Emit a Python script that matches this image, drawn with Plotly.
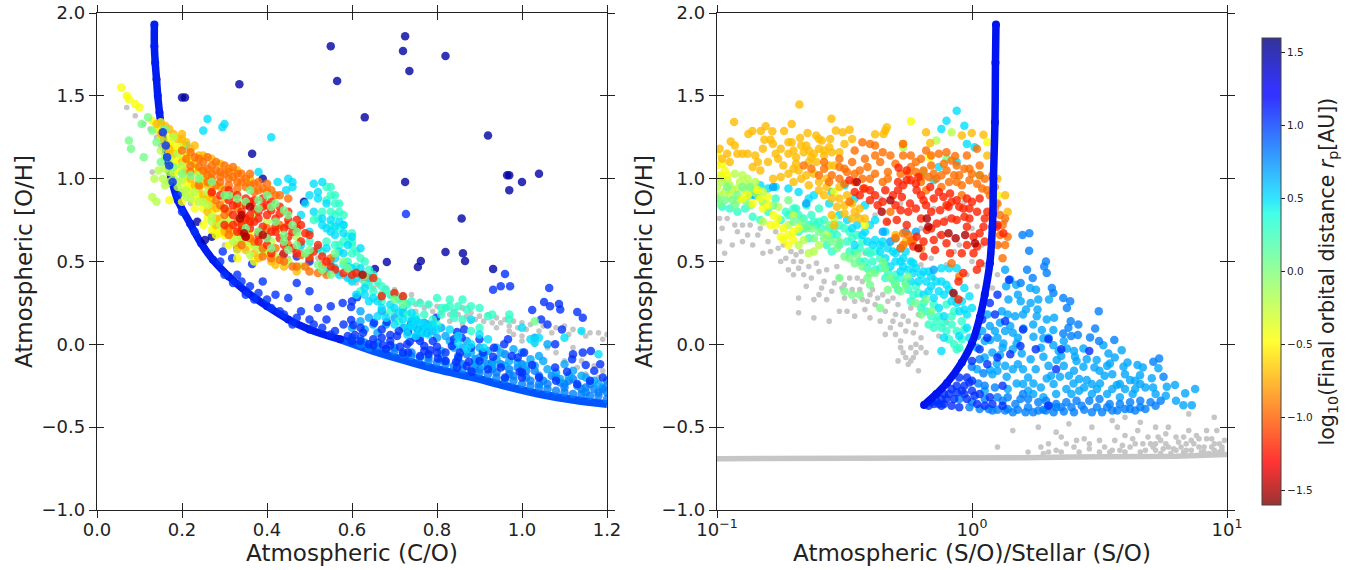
import plotly.graph_objects as go

# ---------- band values of log10(final orbital distance) ----------
C_DARKRED, C_RED, C_ORANGE, C_AMBER, C_YELLOW, C_LIME, C_GREEN = -1.5, -1.2, -0.95, -0.7, -0.45, -0.2, 0.05
C_AQUA, C_CYAN, C_SKY, C_AZURE, C_BLUE, C_NAVY = 0.3, 0.5, 0.68, 0.8, 1.05, 1.5

# ---------- LEFT panel (C/O, O/H) ----------
L_CURVE_UP = [(0.135,1.93),(0.135,1.8),(0.137,1.7),(0.14,1.6),(0.143,1.5),(0.147,1.4),(0.152,1.3),(0.16,1.2),(0.167,1.1),(0.175,1.0),(0.19,0.87),(0.219,0.73),(0.245,0.61),(0.273,0.51),(0.31,0.41),(0.35,0.32),(0.4,0.23),(0.45,0.15),(0.5,0.09),(0.572,0.03)]
L_CURVE_LOW = [(0.572,0.03),(0.65,-0.04),(0.729,-0.1),(0.8,-0.15),(0.885,-0.2),(0.96,-0.25),(1.042,-0.3),(1.12,-0.335),(1.2,-0.36)]
L_GRAY = [(0.07,1.43),(0.09,1.38),(0.11,1.33),(0.125,1.3),(0.14,1.25),(0.15,1.2),(0.13,1.04),(0.16,1.15),(0.17,1.0),(0.2,0.92),(0.22,0.85),(0.25,0.88),(0.3,0.6),(0.35,0.58),(0.4,0.62),(0.45,0.52),(0.5,0.5),(0.54,0.44),(0.58,0.41),(0.6,0.38),(0.62,0.39),(0.64,0.37),(0.66,0.36),(0.68,0.34),(0.7,0.33),(0.72,0.3),(0.74,0.3),(0.76,0.26),(0.78,0.24),(0.8,0.23),(0.82,0.22),(0.84,0.2),(0.86,0.22),(0.88,0.19),(0.9,0.17),(0.92,0.18),(0.94,0.16),(0.96,0.15),(0.98,0.14),(1.0,0.13),(1.02,0.12),(1.05,0.11),(1.08,0.1),(1.1,0.11),(1.12,0.09),(1.14,0.08),(1.16,0.07),(1.18,0.07),(1.2,0.06),(0.68,0.18),(0.7,0.2),(0.72,0.18),(0.75,0.2),(0.8,0.16),(0.83,0.14),(0.86,0.12),(0.88,0.14),(0.94,0.1),(0.97,0.08),(1.0,0.02),(1.03,0.0),(1.06,-0.02),(1.08,-0.05),(1.1,-0.1),(1.13,-0.14),(1.15,-0.18),(1.18,-0.2),(1.2,-0.24),(0.45,0.62),(0.48,0.58),(0.52,0.52),(0.56,0.47),(0.36,0.72),(0.42,0.7),(0.55,0.46),(0.57,0.43),(0.59,0.4),(0.61,0.37),(0.63,0.36),(0.65,0.34),(0.67,0.31),(0.69,0.29),(0.71,0.27),(0.73,0.25),(0.75,0.24),(0.77,0.22),(0.79,0.2),(0.81,0.19),(0.83,0.18),(0.85,0.18),(0.87,0.17),(0.89,0.15),(0.91,0.14),(0.93,0.13),(0.95,0.13),(0.97,0.11),(0.99,0.1),(1.01,0.09),(1.04,0.08),(1.07,0.07),(1.11,0.06),(1.15,0.05),(1.19,0.03),(0.98,0.06),(1.0,0.05),(1.12,-0.02),(1.17,-0.13),(1.19,-0.16),(1.14,-0.1)]
L_NAVY = [(0.55,1.8),(0.725,1.86),(0.72,1.77),(0.735,1.65),(0.82,1.74),(0.565,1.59),(0.335,1.57),(0.63,1.37),(0.92,1.26),(0.725,0.98),(0.965,1.02),(0.97,1.02),(0.97,0.93),(1.0,0.98),(1.04,1.03),(0.365,1.15),(0.2,1.49),(0.207,1.49),(0.858,0.76),(0.82,0.557),(0.861,0.55),(0.866,0.503),(0.682,0.497),(0.762,0.503),(0.755,0.467),(0.654,0.455),(0.932,0.455),(0.39,1.0),(0.487,0.86),(0.236,0.74),(0.254,0.63),(0.27,0.65)]
L_BLUE = [(0.727,0.787),(0.96,0.425),(0.932,0.33),(0.95,0.35),(0.972,0.35),(1.064,0.34),(1.052,0.255),(1.066,0.23),(1.087,0.243),(1.09,0.21),(1.13,0.195),(1.143,0.16),(1.024,0.207),(1.045,0.15),(1.06,0.12),(1.094,0.09),(1.078,0.0),(0.967,0.03),(0.958,0.0),(1.005,-0.05),(1.143,-0.05),(1.162,-0.04),(1.118,-0.09),(1.15,-0.125),(1.184,-0.12),(1.17,-0.16),(1.106,-0.165),(1.078,-0.14),(0.578,0.25),(0.6,0.26),(0.612,0.285),(0.598,0.225),(0.598,0.147),(0.603,0.117),(0.652,0.13),(0.682,0.135),(0.67,0.09),(0.69,0.056),(0.706,0.05),(0.738,0.117),(0.732,0.075),(0.755,0.09),(0.776,0.07),(0.798,0.16),(0.847,0.075),(0.864,0.09),(0.858,0.04),(0.9,0.03),(0.835,-0.01),(0.854,-0.05),(0.908,-0.05),(0.934,-0.02),(0.736,0.015),(0.76,0.02),(0.784,-0.035),(0.8,-0.015),(0.8,-0.05),(0.802,-0.085),(0.732,-0.05),(0.713,-0.015),(0.69,-0.005),(0.673,-0.005),(0.65,-0.005),(0.626,0.07),(0.607,0.056),(0.845,-0.105),(0.875,-0.105),(0.847,-0.14),(0.882,-0.165),(0.932,-0.075),(0.976,-0.07),(0.99,-0.08),(1.024,-0.125),(0.995,-0.165),(0.296,0.56),(0.33,0.575),(0.318,0.52),(0.365,0.485),(0.47,0.53),(0.438,0.54),(0.5,0.5),(0.3,0.42),(0.33,0.42),(0.36,0.35),(0.39,0.38),(0.42,0.3),(0.45,0.28),(0.47,0.37),(0.5,0.32),(0.52,0.22),(0.55,0.23),(0.4,0.27),(0.35,0.3),(0.48,0.2),(0.54,0.15),(0.5,0.15),(0.43,0.2),(0.58,0.12),(0.46,0.12),(0.38,0.31),(0.56,0.08),(0.53,0.1),(0.62,0.02),(0.59,0.05),(0.2,0.8),(0.23,0.68),(0.29,0.5),(0.34,0.38),(0.32,0.37),(0.37,0.27),(0.41,0.22),(0.44,0.18),(0.47,0.16),(0.51,0.12),(0.55,0.06),(0.6,0.02),(0.64,0.0),(0.68,-0.03),(0.72,-0.05),(0.76,-0.07),(0.82,-0.1),(0.87,-0.13),(0.92,-0.15),(0.96,-0.2),(1.0,-0.2),(1.04,-0.2),(1.08,-0.22),(1.13,-0.24),(0.9,-0.1),(0.77,-0.01),(0.84,0.03),(1.16,-0.22),(1.19,-0.2),(1.12,-0.06),(0.62,0.1),(0.67,0.04),(0.71,0.08),(0.75,0.04),(0.79,0.02),(0.82,-0.05),(0.88,-0.02),(0.95,-0.14),(1.0,-0.17),(0.73,0.0),(0.77,-0.04),(0.69,0.02),(0.65,0.03),(0.85,-0.08),(0.78,-0.06)]
L_BLUE_OVER = [(0.155,1.28),(0.162,1.2),(0.165,1.13),(0.17,1.08),(0.178,0.98),(0.19,0.9)]
L_AZURE = [(0.6,0.04),(0.63,0.01),(0.66,-0.01),(0.7,-0.04),(0.74,-0.07),(0.78,-0.1),(0.82,-0.12),(0.86,-0.15),(0.9,-0.17),(0.94,-0.2),(0.98,-0.22),(1.02,-0.25),(1.06,-0.27),(1.1,-0.29),(1.14,-0.3),(1.18,-0.31),(1.2,-0.29),(1.17,-0.27),(1.13,-0.25),(1.09,-0.23),(1.05,-0.22),(1.01,-0.2),(0.97,-0.18),(0.93,-0.15),(0.89,-0.13),(0.85,-0.1),(0.81,-0.09),(1.16,-0.24),(1.19,-0.26),(1.12,-0.21),(1.07,-0.19),(1.03,-0.16),(0.99,-0.14),(0.95,-0.12),(0.91,-0.08),(0.87,-0.06),(1.2,-0.22),(1.1,-0.24),(1.15,-0.29),(1.04,-0.24),(0.92,-0.12),(0.89,-0.09),(0.96,-0.06),(1.0,-0.12),(0.62,0.0),(0.64,-0.02),(0.68,-0.03),(0.72,-0.06),(0.76,-0.08),(0.8,-0.11),(0.84,-0.13),(0.88,-0.16),(0.92,-0.18),(0.96,-0.21),(1.0,-0.24),(1.04,-0.26),(1.08,-0.28),(1.12,-0.3),(1.16,-0.31),(1.2,-0.33),(1.18,-0.29),(1.14,-0.27),(1.1,-0.26),(1.06,-0.24),(1.02,-0.22),(0.98,-0.19),(0.94,-0.17),(0.9,-0.15),(0.86,-0.12),(0.82,-0.1),(0.78,-0.08),(0.74,-0.05),(0.7,-0.02),(0.66,0.01),(0.62,0.03),(1.19,-0.27),(1.15,-0.26),(1.11,-0.22),(1.08,-0.2),(1.04,-0.19),(1.01,-0.16),(0.97,-0.15),(0.93,-0.11)]
L_SKY = [(0.86,-0.02),(0.9,-0.08),(0.92,-0.04),(0.94,-0.09),(0.97,-0.1),(0.88,-0.05),(0.84,-0.02),(0.83,0.02),(0.87,0.02),(0.82,0.05),(0.8,0.04),(0.78,0.12),(0.74,0.14),(0.72,0.19),(0.7,0.16),(0.68,0.12),(0.72,0.1),(0.77,0.1),(0.62,0.2),(0.64,0.16),(0.67,0.2),(0.63,0.09),(0.62,0.14),(0.6,0.1),(0.9,-0.02),(1.0,-0.05),(1.02,-0.09),(1.06,-0.15),(1.1,-0.12),(1.15,-0.2),(1.12,-0.16),(0.79,0.08),(0.81,0.1),(0.76,0.04),(0.94,-0.02),(0.98,-0.03),(1.04,-0.07),(1.03,0.04),(1.06,0.0),(0.91,-0.06),(0.93,-0.13),(0.95,-0.05),(0.99,-0.11),(1.03,-0.13),(1.05,-0.1),(1.08,-0.17),(1.14,-0.19),(1.18,-0.24),(0.85,-0.07),(0.81,-0.04),(0.65,0.12),(0.66,0.07),(0.75,0.14),(0.77,0.13),(0.89,-0.11),(0.91,-0.13),(0.96,-0.13),(1.01,-0.13),(1.09,-0.21),(1.17,-0.22),(1.11,-0.19)]
L_CYAN = [(0.52,0.92),(0.5,0.9),(0.53,0.98),(0.49,0.85),(0.46,0.95),(0.41,1.25),(0.38,1.04),(0.425,0.98),(0.46,0.98),(0.45,1.0),(0.445,0.93),(0.48,0.78),(0.5,0.68),(0.53,0.72),(0.56,0.66),(0.48,0.6),(0.52,0.58),(0.55,0.5),(0.58,0.55),(0.6,0.46),(0.57,0.42),(0.54,0.44),(0.6,0.38),(0.63,0.3),(0.66,0.26),(0.69,0.24),(0.72,0.22),(0.74,0.19),(0.76,0.13),(0.78,0.1),(0.8,0.09),(0.77,0.07),(0.75,0.1),(0.74,0.14),(0.73,0.06),(0.3,1.33),(0.26,1.36),(0.25,1.29),(0.295,1.31),(0.2,1.2),(0.21,1.2),(1.0,0.1),(1.03,0.01),(1.04,0.04),(1.02,0.03),(0.88,0.15),(0.9,0.06),(0.92,0.03),(1.1,0.04),(1.14,0.08),(1.18,-0.06),(0.58,0.72),(0.6,0.65),(0.62,0.58),(0.51,0.97),(0.52,0.88),(0.54,0.85),(0.51,0.8),(0.53,0.76),(0.55,0.68),(0.57,0.74),(0.54,0.58),(0.5,0.55),(0.57,0.56),(0.59,0.6),(0.56,0.46),(0.59,0.4),(0.62,0.46),(0.64,0.4),(0.61,0.3),(0.64,0.26),(0.67,0.22),(0.7,0.22),(0.72,0.15),(0.74,0.11),(0.7,0.12),(0.68,0.16),(0.76,0.08),(0.78,0.06),(0.75,0.05),(0.79,0.12),(0.73,0.1),(0.66,0.17),(0.83,0.09),(0.85,0.05),(0.88,0.0),(0.91,-0.02),(0.87,-0.03),(0.85,0.01),(0.55,0.75),(0.56,0.71),(0.54,0.7),(0.58,0.67),(0.56,0.52),(0.59,0.47),(0.61,0.4),(0.63,0.34),(0.65,0.28),(0.71,0.19),(0.75,0.15),(0.77,0.12)]
L_AQUA = [(0.54,0.95),(0.55,0.9),(0.56,0.85),(0.57,0.8),(0.55,0.8),(0.58,0.72),(0.59,0.65),(0.57,0.6),(0.54,0.62),(0.6,0.6),(0.62,0.52),(0.6,0.55),(0.64,0.45),(0.62,0.42),(0.66,0.38),(0.64,0.36),(0.68,0.33),(0.7,0.3),(0.72,0.28),(0.74,0.26),(0.76,0.25),(0.78,0.24),(0.82,0.22),(0.85,0.23),(0.88,0.23),(0.8,0.28),(0.83,0.27),(0.86,0.27),(0.9,0.22),(0.93,0.18),(0.97,0.18),(0.97,0.15),(0.9,0.1),(0.88,0.08),(0.92,0.17),(0.81,0.18),(0.84,0.16),(0.52,0.76),(0.5,0.62),(0.53,0.56),(0.58,0.48),(0.62,0.32),(0.67,0.3),(0.55,0.95),(0.54,0.87),(0.56,0.9),(0.57,0.85),(0.58,0.78),(0.56,0.78),(0.53,0.8),(0.51,0.75),(0.55,0.72),(0.6,0.67),(0.57,0.7),(0.6,0.62),(0.61,0.56),(0.58,0.62),(0.56,0.6),(0.63,0.5),(0.61,0.47),(0.59,0.5),(0.65,0.42),(0.63,0.38),(0.6,0.42),(0.67,0.35),(0.65,0.32),(0.69,0.3),(0.67,0.26),(0.71,0.27),(0.69,0.2),(0.73,0.24),(0.71,0.14),(0.73,0.18),(0.75,0.17),(0.77,0.18),(0.79,0.15),(0.81,0.22),(0.83,0.23),(0.87,0.21),(0.84,0.19),(0.86,0.15),(0.8,0.12)]
L_GREEN = [(0.105,1.33),(0.12,1.37),(0.075,1.23),(0.08,1.18),(0.11,1.13),(0.13,1.29),(0.14,1.22),(0.16,1.3),(0.15,1.1),(0.18,1.07),(0.2,1.03),(0.22,1.02),(0.24,1.0),(0.3,0.9),(0.33,0.88),(0.36,0.93),(0.38,0.82),(0.4,0.9),(0.42,0.85),(0.45,0.78),(0.46,0.72),(0.42,0.74),(0.38,0.68),(0.44,0.66),(0.47,0.6),(0.5,0.57),(0.45,0.57),(0.41,0.58),(0.53,0.45),(0.55,0.42),(0.59,0.46),(0.63,0.41),(1.03,0.14),(0.72,0.24),(0.7,0.27),(0.35,0.7),(0.4,0.64),(0.27,0.98),(0.31,0.9),(0.35,0.86),(0.38,0.87),(0.41,0.83),(0.44,0.81),(0.47,0.68),(0.44,0.62),(0.49,0.55),(0.52,0.48),(0.56,0.55),(0.58,0.5)]
L_LIME = [(0.145,1.05),(0.135,1.0),(0.17,1.12),(0.16,1.06),(0.17,0.98),(0.16,0.96),(0.19,0.95),(0.13,0.89),(0.21,0.93),(0.22,0.88),(0.25,0.86),(0.27,0.74),(0.3,0.74),(0.3,0.82),(0.32,0.62),(0.35,0.62),(0.38,0.58),(0.24,1.02),(0.2,1.08),(0.18,1.25),(0.2,0.99),(0.14,0.86),(0.19,1.15),(0.26,0.92),(0.15,1.17),(0.16,1.13),(0.155,1.0),(0.17,1.04),(0.18,1.0),(0.19,0.98),(0.2,0.92),(0.21,0.89),(0.23,0.92),(0.24,0.86),(0.26,0.84),(0.27,0.77),(0.29,0.72),(0.31,0.76),(0.33,0.66),(0.34,0.62),(0.36,0.54),(0.39,0.56),(0.42,0.53),(0.45,0.5),(0.48,0.47),(0.41,0.62),(0.37,0.6),(0.34,0.84),(0.37,0.78),(0.4,0.74),(0.43,0.7),(0.47,0.65),(0.5,0.53)]
L_YELLOW = [(0.057,1.55),(0.07,1.5),(0.075,1.48),(0.09,1.45),(0.1,1.43),(0.15,1.3),(0.16,1.28),(0.17,1.24),(0.18,1.2),(0.2,1.2),(0.165,1.2),(0.19,1.13),(0.21,1.1),(0.19,1.05),(0.21,1.0),(0.23,1.05),(0.25,0.97),(0.24,0.9),(0.27,0.88),(0.27,0.8),(0.29,0.82),(0.31,0.72),(0.34,0.72),(0.36,0.66),(0.32,0.65),(0.36,0.6),(0.4,0.55),(0.22,0.96),(0.17,0.87),(0.2,0.86),(0.28,0.66),(0.33,0.57),(0.13,1.35),(0.14,1.3),(0.15,1.24),(0.16,1.2),(0.17,1.16),(0.18,1.1),(0.17,1.08),(0.19,1.09),(0.2,1.04),(0.21,0.96),(0.22,0.92),(0.23,0.87),(0.25,0.82),(0.26,0.76),(0.28,0.7),(0.29,0.67),(0.31,0.6),(0.33,0.52),(0.37,0.5),(0.23,0.82),(0.25,0.72),(0.15,1.34),(0.17,1.21),(0.19,1.18),(0.21,1.14),(0.22,1.11),(0.18,1.04),(0.24,0.98),(0.26,0.88),(0.3,0.66),(0.27,0.69)]
L_AMBER = [(0.17,1.3),(0.2,1.24),(0.22,1.18),(0.24,1.14),(0.23,1.09),(0.25,1.01),(0.27,0.95),(0.29,0.95),(0.3,0.88),(0.25,0.9),(0.28,0.72),(0.3,0.68),(0.33,0.6),(0.37,0.55),(0.41,0.5),(0.44,0.47),(0.47,0.44),(0.26,0.8),(0.28,0.76),(0.15,1.27),(0.17,1.18),(0.18,1.15),(0.2,1.1),(0.21,1.05),(0.22,1.0),(0.23,0.96),(0.24,0.94),(0.26,0.87),(0.27,0.84),(0.28,0.82),(0.29,0.76),(0.3,0.7),(0.32,0.68),(0.34,0.64),(0.35,0.57),(0.38,0.52),(0.42,0.48),(0.2,1.27),(0.18,1.27),(0.19,1.24),(0.21,1.22),(0.23,1.2),(0.16,1.32),(0.14,1.33),(0.25,1.14),(0.27,1.12),(0.29,1.09),(0.31,1.06),(0.33,1.05),(0.36,1.0),(0.24,1.04),(0.26,0.96)]
L_ORANGE = [(0.22,1.16),(0.24,1.12),(0.26,1.13),(0.28,1.1),(0.3,1.08),(0.32,1.07),(0.34,1.03),(0.36,1.03),(0.38,0.98),(0.4,0.97),(0.25,1.05),(0.27,1.03),(0.29,1.04),(0.31,1.0),(0.33,0.98),(0.35,0.95),(0.37,0.92),(0.26,0.98),(0.28,0.96),(0.3,0.93),(0.32,0.9),(0.28,0.87),(0.33,0.82),(0.35,0.75),(0.38,0.68),(0.4,0.7),(0.43,0.72),(0.42,0.58),(0.45,0.6),(0.48,0.54),(0.5,0.44),(0.53,0.48),(0.55,0.52),(0.3,0.78),(0.31,0.66),(0.34,0.68),(0.37,0.62),(0.39,0.53),(0.43,0.51),(0.46,0.47),(0.31,1.04),(0.33,0.94),(0.42,0.9),(0.2,1.17),(0.21,1.12),(0.23,1.13),(0.25,1.1),(0.27,1.08),(0.22,1.08),(0.24,1.07),(0.26,1.06),(0.28,1.05),(0.3,1.03),(0.33,1.03),(0.35,1.0),(0.37,0.97),(0.39,0.94),(0.41,0.93),(0.43,0.9),(0.45,0.88),(0.22,1.04),(0.24,0.96),(0.27,0.91),(0.29,0.98),(0.31,0.96),(0.29,0.84),(0.31,0.8),(0.33,0.74),(0.36,0.64),(0.39,0.58),(0.41,0.52),(0.44,0.5),(0.47,0.47),(0.49,0.47),(0.52,0.43),(0.54,0.42),(0.31,0.7),(0.34,0.6),(0.34,0.98),(0.32,1.01),(0.27,1.0),(0.29,1.01),(0.26,1.02),(0.36,0.96),(0.38,0.93),(0.4,0.92)]
L_RED = [(0.31,0.93),(0.33,0.9),(0.35,0.88),(0.37,0.87),(0.39,0.88),(0.41,0.86),(0.43,0.83),(0.45,0.8),(0.47,0.75),(0.3,0.82),(0.32,0.78),(0.34,0.8),(0.36,0.78),(0.38,0.76),(0.4,0.78),(0.42,0.76),(0.44,0.7),(0.46,0.68),(0.48,0.72),(0.5,0.66),(0.52,0.6),(0.3,0.72),(0.33,0.68),(0.36,0.7),(0.38,0.62),(0.41,0.68),(0.43,0.64),(0.47,0.55),(0.5,0.52),(0.54,0.5),(0.56,0.45),(0.6,0.42),(0.63,0.41),(0.67,0.29),(0.7,0.31),(0.72,0.29),(0.35,0.65),(0.4,0.6),(0.44,0.6),(0.27,0.92),(0.29,0.9),(0.31,0.87),(0.33,0.85),(0.35,0.84),(0.37,0.82),(0.39,0.83),(0.41,0.81),(0.43,0.79),(0.45,0.75),(0.47,0.7),(0.49,0.67),(0.34,0.72),(0.37,0.74),(0.39,0.71),(0.42,0.71),(0.45,0.65),(0.48,0.62),(0.51,0.56),(0.53,0.53),(0.46,0.58),(0.55,0.47),(0.58,0.43),(0.61,0.43),(0.65,0.4),(0.44,0.55),(0.41,0.55),(0.38,0.66),(0.32,0.72),(0.35,0.76),(0.32,0.84),(0.36,0.86),(0.38,0.8),(0.4,0.84),(0.42,0.68),(0.45,0.72),(0.36,0.74),(0.34,0.69),(0.4,0.65)]
L_DARKRED = [(0.336,0.76),(0.36,0.83),(0.346,0.67),(0.35,0.65),(0.39,0.66),(0.34,0.78),(0.625,0.42)]

# ---------- RIGHT panel: log10 of (S/O ratio), O/H ----------
R_CURVE_LOG = [(0.094,1.93),(0.092,1.7),(0.09,1.34),(0.084,1.0),(0.082,0.79),(0.08,0.71),(0.07,0.49),(0.05,0.3),(0.031,0.165),(0.0,0.008),(-0.04,-0.11),(-0.098,-0.233),(-0.14,-0.3),(-0.188,-0.366)]
R_GRAYLINE_LOG = [(-1.0,-0.69),(-0.7,-0.69),(-0.4,-0.69),(-0.1,-0.685),(0.2,-0.685),(0.4,-0.68),(0.6,-0.68),(0.8,-0.675),(1.0,-0.665)]
R_GRAY = [(-0.98,0.7),(-0.99,0.62),(-0.97,0.55),(-0.94,0.6),(-0.92,0.68),(-0.9,0.62),(-0.87,0.72),(-0.86,0.6),(-0.84,0.66),(-0.82,0.55),(-0.8,0.62),(-0.77,0.68),(-0.76,0.58),(-0.73,0.52),(-0.72,0.45),(-0.7,0.5),(-0.68,0.46),(-0.66,0.42),(-0.65,0.35),(-0.68,0.28),(-0.68,0.19),(-0.62,0.27),(-0.62,0.16),(-0.6,0.44),(-0.58,0.38),(-0.57,0.45),(-0.55,0.32),(-0.54,0.37),(-0.52,0.4),(-0.56,0.14),(-0.5,0.28),(-0.49,0.2),(-0.46,0.26),(-0.46,0.17),(-0.44,0.33),(-0.42,0.21),(-0.4,0.3),(-0.38,0.24),(-0.36,0.14),(-0.34,0.2),(-0.32,0.1),(-0.3,0.06),(-0.3,0.18),(-0.28,0.02),(-0.26,0.08),(-0.24,-0.02),(-0.22,0.12),(-0.2,0.04),(-0.27,-0.05),(-0.23,-0.08),(-0.25,-0.12),(-0.21,-0.16),(-0.22,0.0),(-0.42,0.55),(-0.35,0.6),(-0.3,0.66),(-0.25,0.62),(-0.2,0.7),(-0.15,0.82),(-0.1,0.76),(-0.05,0.6),(0.0,0.7),(0.05,0.48),(0.02,0.35),(-0.02,0.42),(0.1,0.85),(0.13,0.74),(0.11,0.6),(-0.15,0.4),(-0.1,0.48),(0.08,0.34),(-0.28,0.85),(-0.36,0.88),(-0.45,0.78),(-0.52,0.62),(0.05,0.27),(0.27,-0.62),(0.3,-0.6),(0.33,-0.53),(0.35,-0.56),(0.38,-0.48),(0.4,-0.62),(0.44,-0.57),(0.47,-0.5),(0.5,-0.58),(0.52,-0.62),(0.55,-0.46),(0.57,-0.5),(0.6,-0.55),(0.62,-0.62),(0.65,-0.52),(0.68,-0.64),(0.7,-0.6),(0.73,-0.56),(0.75,-0.63),(0.77,-0.5),(0.8,-0.56),(0.82,-0.62),(0.85,-0.52),(0.87,-0.6),(0.9,-0.65),(0.92,-0.57),(0.94,-0.62),(0.96,-0.52),(0.98,-0.64),(0.16,-0.52),(0.26,-0.5),(0.1,-0.62),(0.42,-0.65),(0.72,-0.64),(0.83,-0.65),(0.88,-0.55),(0.93,-0.66),(0.79,-0.63),(0.95,-0.6),(0.6,-0.44),(0.85,-0.42),(0.95,-0.44),(-0.96,0.76),(-0.93,0.72),(-0.88,0.66),(-0.83,0.7),(-0.79,0.56),(-0.74,0.6),(-0.71,0.56),(-0.69,0.54),(-0.67,0.5),(-0.64,0.47),(-0.63,0.4),(-0.59,0.34),(-0.61,0.49),(-0.53,0.47),(-0.5,0.36),(-0.48,0.4),(-0.47,0.33),(-0.45,0.4),(-0.43,0.38),(-0.41,0.26),(-0.39,0.33),(-0.37,0.28),(-0.35,0.3),(-0.33,0.26),(-0.31,0.28),(-0.29,0.24),(-0.27,0.17),(-0.25,0.14),(-0.23,0.07),(-0.21,0.18),(-0.24,0.22),(-0.26,-0.08),(-0.24,-0.1),(-0.22,-0.05),(-0.28,-0.02),(-0.2,-0.02),(0.0,0.5),(0.04,0.6),(-0.03,0.86),(-0.07,0.56),(-0.13,0.66),(-0.16,0.52),(-0.2,0.48),(-0.24,0.5),(-0.38,0.78),(-0.33,0.74),(0.08,0.55),(0.1,0.42),(-0.1,0.14),(-0.13,0.05),(0.91,-0.62),(0.97,-0.6),(0.99,-0.58),(0.86,-0.64),(0.8,-0.64),(0.76,-0.6),(0.71,-0.62),(0.64,-0.6),(0.58,-0.64),(0.54,-0.65),(0.5,-0.65),(0.46,-0.63),(0.92,-0.52),(-0.75,0.5),(-0.7,0.42),(-0.67,0.56),(-0.6,0.3),(-0.57,0.27),(-0.52,0.2),(-0.51,0.34),(-0.43,0.27),(-0.31,0.14),(-0.29,-0.1),(-0.18,-0.05),(-0.28,0.12),(-0.34,0.06),(-0.4,0.16),(-0.99,0.76),(-0.9,0.72),(0.89,-0.62),(0.84,-0.6),(0.78,-0.66),(0.74,-0.66),(0.66,-0.65),(0.6,-0.65),(0.55,-0.64),(0.3,-0.65),(0.35,-0.65),(0.22,-0.65),(0.95,-0.64),(0.98,-0.62),(0.28,-0.66),(0.33,-0.64),(0.37,-0.6),(0.41,-0.58),(0.46,-0.6),(0.56,-0.58),(0.59,-0.61),(0.63,-0.57),(0.67,-0.6),(0.69,-0.56),(0.72,-0.6),(0.74,-0.58),(0.77,-0.62),(0.81,-0.59),(0.84,-0.64),(0.86,-0.58),(0.89,-0.57),(0.91,-0.65),(0.94,-0.57),(0.97,-0.65),(0.83,-0.56),(0.76,-0.54),(0.66,-0.47),(0.72,-0.5)]
R_DARKRED = [(-0.177,0.76),(-0.171,0.71),(-0.092,0.67),(-0.064,0.64),(-0.027,0.66),(0.012,0.61),(-0.073,0.31),(-0.354,0.8),(-0.21,0.58),(-0.32,0.87),(-0.452,0.98)]
R_RED = [(-0.288,1.066),(-0.256,1.05),(-0.21,1.01),(-0.256,0.99),(-0.426,0.94),(-0.4,0.93),(-0.3,0.84),(-0.275,0.89),(-0.243,0.85),(-0.217,0.93),(-0.19,0.87),(-0.164,0.95),(-0.112,0.89),(-0.086,0.91),(-0.06,0.87),(-0.034,0.82),(-0.01,0.82),(-0.0,0.86),(-0.125,0.81),(-0.092,0.83),(-0.06,0.75),(-0.02,0.71),(0.006,0.65),(0.045,0.71),(0.097,0.71),(0.123,0.67),(-0.138,0.73),(-0.177,0.69),(-0.217,0.65),(-0.23,0.59),(-0.19,0.53),(-0.145,0.57),(-0.086,0.55),(0.006,0.55),(0.032,0.49),(0.019,0.45),(-0.034,0.43),(-0.053,0.38),(-0.053,0.27),(-0.334,0.74),(-0.295,0.75),(-0.256,0.72),(-0.38,0.9),(-0.35,0.86),(-0.48,0.99),(-0.46,0.92),(-0.16,0.8),(0.03,0.88),(0.06,0.8),(-0.29,0.98),(-0.2,0.76),(-0.34,0.93),(-0.31,0.9),(-0.29,0.93),(-0.27,0.96),(-0.24,0.99),(-0.22,0.97),(-0.2,0.9),(-0.18,0.84),(-0.15,0.88),(-0.13,0.92),(-0.1,0.84),(-0.08,0.86),(-0.05,0.83),(-0.03,0.77),(-0.01,0.76),(0.02,0.8),(0.05,0.76),(0.08,0.78),(0.1,0.72),(0.03,0.67),(0.05,0.62),(0.02,0.59),(-0.02,0.6),(-0.04,0.55),(-0.1,0.61),(-0.12,0.66),(-0.15,0.63),(-0.19,0.62),(-0.16,0.7),(-0.11,0.74),(-0.08,0.76),(-0.28,0.81),(-0.25,0.8),(-0.22,0.82),(-0.37,0.84),(-0.4,0.87),(-0.44,0.9),(-0.02,0.88)]
R_ORANGE = [(-0.58,1.06),(-0.55,1.02),(-0.52,1.07),(-0.49,1.04),(-0.46,1.03),(-0.43,1.0),(-0.41,1.07),(-0.38,1.03),(-0.36,1.1),(-0.33,1.04),(-0.3,1.09),(-0.27,1.14),(-0.24,1.07),(-0.22,1.1),(-0.19,1.05),(-0.16,1.08),(-0.13,1.15),(-0.1,1.05),(-0.08,1.11),(-0.05,1.02),(-0.03,1.06),(0.0,1.03),(0.03,1.08),(0.05,1.0),(0.02,0.97),(-0.04,0.96),(-0.09,0.98),(-0.14,1.0),(-0.2,0.98),(-0.35,0.98),(-0.42,0.94),(-0.5,0.97),(-0.48,0.86),(-0.32,0.8),(-0.27,0.6),(-0.3,0.64),(-0.23,0.63),(-0.08,0.49),(-0.05,0.41),(0.06,0.93),(0.1,0.85),(0.13,0.6),(0.12,0.52),(0.13,0.76),(-0.43,1.22),(-0.4,1.21),(-0.38,1.2),(-0.27,1.21),(-0.46,1.17),(-0.35,1.16),(-0.18,1.17),(-0.1,1.16),(-0.02,1.14),(0.019,1.18),(-0.066,1.137),(0.09,0.95),(-0.25,1.03),(-0.2,1.01),(-0.15,1.03),(-0.06,0.98),(-0.01,0.99),(0.04,0.94),(0.07,0.9),(0.09,0.82),(0.11,0.78),(-0.46,0.98),(-0.52,1.0),(-0.56,0.98),(-0.4,1.0),(-0.33,1.0),(-0.28,1.03),(-0.12,1.02),(-0.07,1.02),(-0.42,1.12),(-0.38,1.14),(-0.32,1.14),(-0.24,1.14),(-0.2,1.12),(-0.16,1.14),(-0.06,1.08),(-0.47,1.1),(-0.52,1.12),(-0.58,1.1),(-0.63,1.06),(-0.66,1.08),(-0.6,1.02),(0.03,1.02),(-0.04,0.9),(-0.18,0.93),(-0.12,0.95),(-0.24,0.62),(-0.2,0.58),(-0.27,0.67),(0.1,0.6),(0.11,0.66),(-0.22,1.04),(-0.17,1.01),(-0.44,1.05),(-0.5,1.06),(-0.01,1.06),(0.08,1.02),(-0.11,1.09),(-0.28,0.58),(-0.25,0.66),(0.12,0.72),(0.14,0.65)]
R_AMBER = [(-0.677,1.447),(-0.933,1.342),(-0.551,1.362),(-0.707,1.33),(-0.809,1.316),(-0.861,1.288),(-0.828,1.288),(-0.783,1.286),(-0.737,1.288),(-0.877,1.27),(-0.946,1.225),(-0.814,1.235),(-0.79,1.235),(-0.781,1.21),(-0.645,1.275),(-0.611,1.26),(-0.674,1.245),(-0.707,1.22),(-0.589,1.23),(-0.556,1.24),(-0.534,1.29),(-0.507,1.28),(-0.48,1.296),(-0.334,1.31),(-0.34,1.29),(-0.38,1.268),(-0.347,1.27),(-0.18,1.28),(-0.164,1.215),(-0.271,1.21),(-0.04,1.26),(-0.001,1.275),(0.045,1.265),(-0.88,1.15),(-0.85,1.14),(-0.95,1.1),(-0.92,1.15),(-0.76,1.12),(-0.74,1.08),(-0.72,1.15),(-0.69,1.13),(-0.66,1.16),(-0.64,1.1),(-0.62,1.15),(-0.6,1.18),(-0.58,1.14),(-0.55,1.16),(-0.68,1.05),(-0.65,1.02),(-0.7,0.98),(-0.62,1.03),(-0.6,0.98),(-0.57,0.95),(-0.52,0.88),(-0.5,0.84),(-0.47,0.85),(-0.44,0.82),(-0.42,0.76),(-0.55,0.78),(-0.54,0.72),(-0.3,0.66),(-0.26,0.62),(-0.78,1.0),(-0.75,1.01),(-0.99,1.18),(-0.98,1.12),(0.13,0.9),(0.14,0.8),(0.1,1.0),(0.06,1.14),(-0.84,1.1),(-0.67,1.2),(-0.7,1.17),(-0.75,1.18),(-0.72,1.22),(-0.65,1.2),(-0.6,1.24),(-0.56,1.19),(-0.63,1.13),(-0.52,1.16),(-0.5,1.21),(-0.47,1.24),(-0.54,1.08),(-0.72,1.03),(-0.67,1.0),(-0.64,0.96),(-0.58,0.9),(-0.6,0.93),(-0.55,0.88),(-0.53,0.83),(-0.5,0.79),(-0.47,0.76),(-0.44,0.76),(-0.57,1.0),(-0.93,1.2),(-0.9,1.15),(-0.96,1.15),(-0.82,1.18),(-0.77,1.15),(-0.8,1.1),(-0.83,1.05),(-0.86,1.07),(-0.69,1.09),(-0.61,1.1),(-0.56,1.08),(-0.58,1.17),(-0.64,1.17),(-0.7,1.06),(-0.49,0.9),(-0.46,0.8),(-0.52,0.95)]
R_YELLOW = [(-1.0,1.15),(-0.98,1.09),(-0.97,1.05),(-0.99,1.02),(-0.239,1.346),(-0.166,1.13),(0.06,1.22),(0.1,0.9),(-0.8,0.89),(-0.86,0.85),(-0.82,0.82),(-0.88,0.9),(-0.78,0.78),(-0.74,0.7),(-0.77,0.72),(-0.72,0.66),(-0.75,0.65),(-0.7,0.63),(-0.72,0.6),(-0.84,0.93),(-0.54,0.92),(-0.42,0.72),(-0.9,0.88),(-0.68,0.7),(-0.8,0.84),(-0.76,0.76),(-0.79,0.72),(-0.74,0.63),(-0.7,0.68),(-1.0,1.08),(-0.96,1.02),(-0.83,0.88)]
R_LIME = [(-1.0,1.0),(-0.98,0.98),(-0.96,0.99),(-0.94,0.93),(-0.91,0.98),(-0.88,1.0),(-0.97,0.92),(-0.99,0.9),(-0.93,1.03),(-0.85,0.98),(-0.68,0.6),(-0.62,0.56),(-0.82,0.74),(-0.76,0.83),(-0.7,0.78),(-0.64,0.55),(-0.6,0.6),(-0.54,0.76),(-0.27,1.19),(-0.14,1.23),(-0.08,1.28),(-0.95,0.96),(-0.92,0.94),(-0.89,0.93),(-0.86,0.92),(-1.0,0.95),(-0.9,1.02),(-0.72,0.72),(-0.66,0.63),(-0.57,0.66),(-0.98,1.01),(-0.95,0.9),(-0.92,0.87),(-0.88,0.96),(-0.85,0.94),(-0.82,0.92)]
R_GREEN = [(-1.0,0.88),(-0.97,0.87),(-0.94,0.87),(-0.92,0.9),(-0.89,0.87),(-0.87,0.95),(-0.9,0.95),(-0.96,0.95),(-0.84,0.9),(-0.72,0.87),(-0.7,0.74),(-0.65,0.7),(-0.6,0.68),(-0.55,0.62),(-0.5,0.53),(-0.46,0.49),(-0.52,0.4),(-0.5,0.32),(-0.44,0.3),(-0.4,0.43),(-0.36,0.22),(-0.47,0.3),(-0.4,0.36),(-0.32,0.4),(-0.33,0.33),(-0.25,0.41),(-0.28,0.32),(-0.22,0.25),(-0.35,0.5),(0.03,1.02),(-0.1,1.12),(-0.19,1.04),(-0.82,0.86),(-0.99,0.85),(-0.93,0.84),(-0.87,0.84),(-0.78,0.84),(-0.62,0.64),(-0.58,0.64),(-0.53,0.58),(-0.48,0.52),(-0.43,0.47),(-0.38,0.43),(-0.34,0.46),(-0.3,0.36),(-0.26,0.36),(-0.2,0.18),(-0.18,0.27),(-0.16,0.2),(-0.67,0.74),(-0.63,0.7),(-0.56,0.72),(-0.52,0.62),(-0.45,0.54),(-0.41,0.4)]
R_AQUA = [(-0.98,0.83),(-0.95,0.82),(-0.92,0.8),(-0.89,0.82),(-0.86,0.77),(-0.83,0.75),(-0.8,0.8),(-0.77,0.88),(-0.73,0.8),(-0.69,0.82),(-0.66,0.76),(-0.63,0.78),(-0.6,0.82),(-0.68,0.68),(-0.64,0.64),(-0.61,0.72),(-0.58,0.75),(-0.56,0.7),(-0.57,0.6),(-0.53,0.66),(-0.5,0.7),(-0.47,0.64),(-0.48,0.56),(-0.44,0.58),(-0.42,0.5),(-0.38,0.45),(-0.36,0.52),(-0.34,0.4),(-0.3,0.36),(-0.26,0.37),(-0.23,0.3),(-0.2,0.22),(-0.18,0.2),(-0.15,0.24),(-0.17,0.12),(-0.14,0.14),(-0.12,0.1),(-0.09,0.03),(-0.07,-0.0),(-0.08,0.12),(-0.05,-0.02),(-0.04,0.14),(-0.07,0.2),(-0.1,0.24),(-0.02,-0.05),(-0.06,0.08),(-0.65,0.84),(-0.75,0.75),(-0.55,0.56),(-0.4,0.55),(-0.3,0.42),(-0.22,0.35),(-0.7,0.82),(-0.66,0.7),(-0.62,0.74),(-0.59,0.7),(-0.55,0.66),(-0.52,0.6),(-0.49,0.62),(-0.46,0.56),(-0.44,0.5),(-0.41,0.46),(-0.39,0.5),(-0.36,0.46),(-0.33,0.44),(-0.31,0.39),(-0.28,0.4),(-0.25,0.33),(-0.21,0.31),(-0.19,0.25),(-0.16,0.17),(-0.13,0.17),(-0.1,0.08),(-0.08,0.17),(-0.04,0.03),(-0.03,0.09),(-0.06,-0.03),(-0.52,0.72),(-0.48,0.68),(-0.43,0.62),(-0.38,0.56),(-0.72,0.78),(-0.68,0.78),(-0.64,0.72),(-0.6,0.74),(-0.54,0.7),(-0.45,0.66),(-0.41,0.56),(-0.34,0.48),(-0.29,0.33),(-0.24,0.26),(-0.15,0.1),(-0.11,0.13)]
R_CYAN = [(-0.87,0.9),(-0.83,0.96),(-0.8,0.94),(-0.77,0.95),(-0.72,0.94),(-0.68,0.92),(-0.64,0.88),(-0.62,0.9),(-0.56,0.85),(-0.52,0.78),(-0.49,0.75),(-0.45,0.72),(-0.42,0.68),(-0.38,0.63),(-0.36,0.6),(-0.33,0.58),(-0.3,0.55),(-0.27,0.52),(-0.24,0.5),(-0.22,0.46),(-0.2,0.42),(-0.18,0.38),(-0.16,0.35),(-0.13,0.32),(-0.1,0.36),(-0.07,0.3),(-0.04,0.26),(-0.01,0.29),(-0.17,0.44),(-0.12,0.46),(-0.09,0.46),(-0.06,0.46),(-0.46,0.6),(-0.41,0.62),(-0.36,0.56),(-0.32,0.47),(-0.28,0.44),(-0.25,0.45),(-0.24,0.38),(-0.19,0.3),(-0.15,0.28),(-0.13,0.22),(-0.11,0.17),(-0.03,0.21),(-0.05,0.05),(-0.12,-0.04),(-0.11,0.04),(-0.02,0.1),(-0.4,0.72),(-0.34,0.68),(-0.3,0.64),(-0.06,1.41),(-0.1,1.35),(-0.12,1.3),(-0.03,1.32),(-0.06,1.1),(-0.02,1.21),(0.01,1.19),(-0.15,0.99),(-0.13,1.07),(-0.5,0.96),(-0.46,0.88),(-0.42,0.84),(-0.55,0.92),(-0.38,0.75),(-0.34,0.52),(-0.3,0.5),(-0.27,0.47),(-0.23,0.43),(-0.21,0.38),(-0.17,0.32),(-0.14,0.38),(-0.11,0.3),(-0.08,0.26),(-0.05,0.2),(-0.02,0.18),(0.0,0.22),(-0.03,0.34),(-0.01,0.04),(-0.47,0.7),(-0.43,0.66),(-0.39,0.6),(-0.35,0.62),(-0.26,0.56),(-0.23,0.49),(-0.19,0.44),(-0.16,0.41),(-0.12,0.38),(-0.09,0.33),(-0.06,0.25),(-0.31,0.56),(-0.28,0.5)]
R_SKY = [(-0.78,0.95),(-0.85,0.9),(-0.65,0.85),(-0.26,0.68),(-0.22,0.68),(-0.32,0.62),(-0.35,0.68),(-0.28,0.58),(-0.15,0.45),(0.13,0.45),(0.15,0.39),(0.173,0.36),(0.134,0.35),(0.228,0.34),(0.251,0.33),(0.143,0.27),(0.26,0.27),(0.302,0.27),(0.191,0.26),(0.212,0.21),(0.257,0.21),(0.117,0.2),(0.322,0.16),(0.293,0.15),(0.254,0.17),(0.202,0.096),(0.169,0.17),(0.11,0.13),(0.15,0.11),(0.274,0.086),(0.319,0.086),(0.241,0.046),(0.175,0.005),(0.123,0.005),(0.071,0.026),(0.11,-0.065),(0.195,-0.055),(0.28,-0.075),(0.332,-0.095),(0.404,-0.075),(0.489,-0.095),(0.437,-0.135),(0.541,-0.115),(0.594,-0.135),(0.649,-0.125),(0.731,-0.145),(0.705,-0.205),(0.659,-0.186),(0.62,-0.216),(0.568,-0.246),(0.502,-0.236),(0.45,-0.216),(0.398,-0.236),(0.345,-0.196),(0.293,-0.206),(0.241,-0.236),(0.175,-0.236),(0.136,-0.196),(0.097,-0.115),(0.071,-0.155),(0.796,-0.245),(0.836,-0.296),(0.862,-0.367),(0.829,-0.367),(0.764,-0.256),(0.372,-0.025),(0.319,-0.005),(0.28,0.036),(0.437,-0.025),(0.515,-0.005),(0.535,-0.055),(0.587,-0.035),(0.875,-0.27),(0.33,-0.3),(0.37,-0.27),(0.42,-0.28),(0.47,-0.3),(0.53,-0.3),(0.58,-0.32),(0.63,-0.3),(0.68,-0.26),(0.72,-0.3),(0.76,-0.31),(0.8,-0.34),(0.04,0.08),(0.07,0.11),(0.1,0.04),(0.06,0.18),(0.02,-0.02),(0.16,0.07),(0.2,-0.15),(0.25,-0.15),(0.3,-0.13),(0.4,-0.16),(0.5,-0.16),(0.55,-0.18),(0.24,-0.3),(0.28,-0.32),(0.2,0.18),(0.24,0.12),(0.3,0.04),(0.35,-0.07),(0.4,-0.04),(0.45,-0.09),(0.48,-0.14),(0.52,-0.19),(0.56,-0.08),(0.6,-0.18),(0.64,-0.22),(0.67,-0.14),(0.71,-0.26),(0.16,-0.03),(0.13,-0.13),(0.18,-0.12),(0.22,-0.2),(0.27,-0.26),(0.32,-0.24),(0.36,-0.13),(0.38,-0.19),(0.44,-0.26),(0.49,-0.27),(0.55,-0.27),(0.6,-0.27),(0.64,-0.27),(0.08,-0.05),(0.05,0.02),(0.09,0.08),(0.14,0.18),(0.18,0.3),(0.08,-0.18),(0.12,-0.02),(0.2,-0.24),(0.36,0.02),(0.41,-0.1),(0.34,-0.04),(0.05,-0.08),(0.1,-0.16),(0.16,-0.15),(0.23,-0.09),(0.27,-0.02),(0.31,-0.19),(0.42,-0.21),(0.47,-0.24),(0.53,-0.13),(0.58,-0.24),(0.61,-0.11),(0.66,-0.24),(0.14,-0.27),(0.22,-0.28),(0.39,-0.3),(0.05,-0.28),(0.02,-0.15),(0.18,0.04),(0.23,0.25),(0.13,0.08)]
R_AZURE = [(0.198,0.66),(0.225,0.67),(0.224,0.565),(0.29,0.5),(0.283,0.47),(0.293,0.43),(0.216,0.45),(0.238,0.4),(0.191,0.37),(0.313,0.34),(0.319,0.31),(0.358,0.28),(0.385,0.26),(0.372,0.22),(0.497,0.2),(0.387,0.14),(0.417,0.12),(0.483,0.096),(0.378,0.1),(0.358,0.066),(0.389,0.05),(0.415,0.056),(0.463,0.042),(0.498,0.02),(0.558,0.026),(0.711,-0.105),(0.734,-0.085),(0.751,-0.195),(0.025,-0.236),(-0.001,-0.135),(0.045,-0.175),(-0.05,-0.33),(-0.01,-0.38),(0.03,-0.39),(0.065,-0.39),(0.1,-0.395),(0.14,-0.39),(0.18,-0.395),(0.21,-0.41),(0.24,-0.41),(0.28,-0.395),(0.32,-0.41),(0.36,-0.405),(0.4,-0.41),(0.44,-0.395),(0.47,-0.41),(0.51,-0.41),(0.55,-0.4),(0.6,-0.39),(0.64,-0.4),(0.68,-0.39),(0.7,-0.35),(0.0,-0.35),(0.05,-0.33),(0.1,-0.32),(0.14,-0.32),(0.17,-0.36),(0.22,-0.33),(0.26,-0.35),(0.29,-0.34),(0.33,-0.36),(0.37,-0.35),(0.41,-0.34),(0.46,-0.34),(0.5,-0.33),(0.54,-0.36),(0.58,-0.36),(0.62,-0.35),(0.66,-0.34),(0.74,-0.34),(0.33,-0.38),(0.02,0.05),(0.03,-0.09),(0.09,-0.26),(0.05,-0.25),(0.2,-0.3),(0.13,-0.4),(0.29,-0.4),(0.08,-0.4),(0.16,-0.41),(0.22,-0.38),(0.26,-0.4),(0.3,-0.37),(0.35,-0.38),(0.39,-0.38),(0.43,-0.37),(0.49,-0.38),(0.53,-0.38),(0.57,-0.4),(0.62,-0.39),(0.66,-0.38),(0.72,-0.37),(0.12,-0.34),(0.19,-0.33)]
R_BLUE = [(0.145,0.39),(0.1,0.3),(0.07,0.25),(0.09,0.18),(0.04,0.15),(0.06,0.04),(0.03,-0.03),(0.0,-0.1),(-0.02,-0.2),(-0.05,-0.2),(-0.08,-0.27),(-0.11,-0.3),(-0.14,-0.34),(-0.16,-0.35),(-0.12,-0.37),(-0.08,-0.37),(-0.05,-0.38),(-0.03,-0.3),(0.03,-0.3),(0.0,-0.28),(0.05,-0.37),(0.08,-0.36),(0.07,-0.32),(0.12,-0.25),(0.12,-0.37),(0.15,-0.06),(0.2,0.09),(0.13,0.14),(0.19,-0.01),(0.25,-0.03),(0.3,0.03),(0.33,-0.15),(0.35,-0.03),(0.46,-0.04),(0.3,-0.37),(0.1,-0.08),(0.06,-0.12),(-0.1,-0.33),(-0.07,-0.33),(-0.04,-0.28),(-0.02,-0.33),(0.02,-0.36),(-0.01,-0.23),(-0.06,-0.25),(-0.12,-0.33),(-0.09,-0.3),(-0.06,-0.29),(-0.03,-0.25),(0.0,-0.22),(0.01,-0.31),(-0.13,-0.36),(-0.17,-0.37),(-0.15,-0.36),(-0.11,-0.36)]

# ---------- shared colours and labels ----------
STOPS = [(0,(128,0,0)),(0.09,(255,0,0)),(0.11,(255,18,0)),(0.35,(255,255,0)),(0.36,(247,255,8)),(0.625,(20,255,226)),(0.65,(0,229,247)),(0.66,(0,219,255)),(0.875,(0,0,255)),(0.89,(0,0,255)),(1,(0,0,128))]
COLORSCALE = [[p, f"rgba({r},{g},{b},0.8)"] for p,(r,g,b) in STOPS]
X1_TICKS = [0.0,0.2,0.4,0.6,0.8,1.0,1.2]
Y_TICKS = [-1.0,-0.5,0.0,0.5,1.0,1.5,2.0]
Y_LABELS = ["−1.0","−0.5","0.0","0.5","1.0","1.5","2.0"]
X2_TICKS = [0.1,1,10]
X2_LABELS = ["10<sup>−1</sup>","10<sup>0</sup>","10<sup>1</sup>"]

LEFT_ORDER = [L_AZURE,L_SKY,L_BLUE,L_NAVY,L_AQUA,L_CYAN,L_YELLOW,L_AMBER,L_LIME,L_ORANGE,L_RED,L_GREEN,L_DARKRED,L_BLUE_OVER]
LEFT_C = [C_AZURE,C_SKY,C_BLUE,C_NAVY,C_AQUA,C_CYAN,C_YELLOW,C_AMBER,C_LIME,C_ORANGE,C_RED,C_GREEN,C_DARKRED,C_BLUE]
RIGHT_ORDER = [R_AQUA,R_CYAN,R_SKY,R_AZURE,R_BLUE,R_LIME,R_GREEN,R_YELLOW,R_AMBER,R_ORANGE,R_RED,R_DARKRED]
RIGHT_C = [C_AQUA,C_CYAN,C_SKY,C_AZURE,C_BLUE,C_LIME,C_GREEN,C_YELLOW,C_AMBER,C_ORANGE,C_RED,C_DARKRED]

W, H = 1359, 570
ML, MR, MT, MB = 97, W-1227, 13, H-510
PW, PH = W-ML-MR, H-MT-MB
fig = go.Figure()
MS = 8.5
GS = 5.6
GRAY = "#c6c6c6"

def scatter(x, y, c, xa, ya):
    fig.add_trace(go.Scatter(x=x, y=y, mode="markers", xaxis=xa, yaxis=ya, showlegend=False,
                             marker=dict(size=MS, color=c, coloraxis="coloraxis", line=dict(width=0))))

# left: the curve lies beneath the cloud, which hides it where the wedge crosses
fig.add_trace(go.Scatter(x=[p[0] for p in L_GRAY], y=[p[1] for p in L_GRAY], mode="markers", xaxis="x", yaxis="y",
                         showlegend=False, marker=dict(size=GS, color=GRAY)))
fig.add_trace(go.Scatter(x=[p[0] for p in L_CURVE_LOW], y=[p[1] for p in L_CURVE_LOW], mode="lines", xaxis="x", yaxis="y",
                         showlegend=False, line=dict(color="rgb(0,85,255)", width=8, shape="spline")))
fig.add_trace(go.Scatter(x=[p[0] for p in L_CURVE_UP], y=[p[1] for p in L_CURVE_UP], mode="lines+markers", xaxis="x", yaxis="y",
                         showlegend=False, line=dict(color="rgb(0,30,240)", width=7.5, shape="spline"), marker=dict(size=8, color="rgb(0,30,240)")))
lx, ly, lc = [], [], []
for pts, c in zip(LEFT_ORDER, LEFT_C):
    lx += [p[0] for p in pts]; ly += [p[1] for p in pts]; lc += [c]*len(pts)
scatter(lx, ly, lc, "x", "y")

# right
fig.add_trace(go.Scatter(x=[10**p[0] for p in R_GRAY], y=[p[1] for p in R_GRAY], mode="markers", xaxis="x2", yaxis="y2",
                         showlegend=False, marker=dict(size=GS, color=GRAY)))
fig.add_trace(go.Scatter(x=[10**p[0] for p in R_GRAYLINE_LOG], y=[p[1] for p in R_GRAYLINE_LOG], mode="lines", xaxis="x2", yaxis="y2",
                         showlegend=False, line=dict(color=GRAY, width=5.5)))
rx, ry, rc = [], [], []
for pts, c in zip(RIGHT_ORDER, RIGHT_C):
    rx += [10**p[0] for p in pts]; ry += [p[1] for p in pts]; rc += [c]*len(pts)
scatter(rx, ry, rc, "x2", "y2")
fig.add_trace(go.Scatter(x=[10**p[0] for p in R_CURVE_LOG], y=[p[1] for p in R_CURVE_LOG], mode="lines+markers", xaxis="x2", yaxis="y2",
                         showlegend=False, line=dict(color="rgb(0,20,240)", width=7.5, shape="spline"), marker=dict(size=8, color="rgb(0,20,240)")))

# empty overlay traces so the tick axes exist
for xa, ya in [("x3","y3"),("x4","y4"),("x5","y3"),("x6","y4")]:
    fig.add_trace(go.Scatter(x=[None], y=[None], xaxis=xa, yaxis=ya, showlegend=False, hoverinfo="skip"))

dom1 = [0, 510/PW]; dom2 = [620/PW, 1]; domy = [0, 1]
FONT = "DejaVu Sans"; INK = "#222222"
def base_axis(**kw):
    d = dict(showgrid=False, zeroline=False, showline=True, linecolor=INK, linewidth=1.3, mirror="ticks", tickcolor=INK,
             ticklen=7, tickwidth=1.1, ticks="outside", automargin=False, tickfont=dict(family=FONT, size=18, color=INK))
    d.update(kw); return d
def ax_title(t):
    return dict(text=t, font=dict(family=FONT, size=23, color=INK), standoff=2)
CLEAR = "rgba(0,0,0,0)"

fig.update_layout(
    width=W, height=H, margin=dict(l=ML, r=MR, t=MT, b=MB, autoexpand=False), paper_bgcolor="white", plot_bgcolor="white", showlegend=False,
    font=dict(family=FONT),
    coloraxis=dict(cmin=-1.6, cmax=1.6, colorscale=COLORSCALE, colorbar=dict(
        x=(1262-ML)/PW, xanchor="left", y=5/PH, yanchor="bottom", len=467/PH, lenmode="fraction", thickness=19, thicknessmode="pixels",
        tickvals=[-1.5,-1.0,-0.5,0.0,0.5,1.0,1.5], ticktext=["−1.5","−1.0","−0.5","0.0","0.5","1.0","1.5"],
        ticks="outside", ticklen=4, tickwidth=1, tickcolor=INK, tickfont=dict(family=FONT, size=10.5, color=INK),
        outlinecolor="#444444", outlinewidth=1, xpad=0, ypad=0,
        title=dict(text="log<sub>10</sub>(Final orbital distance <i>r</i><sub>p</sub>[AU])", side="right", font=dict(family=FONT, size=20.5, color=INK)))),
    xaxis=base_axis(domain=dom1, anchor="y", range=[0,1.2], tickvals=X1_TICKS, tickformat=".1f", ticklen=3, tickcolor=CLEAR, title=ax_title("Atmospheric (C/O)")),
    yaxis=base_axis(domain=domy, anchor="x", range=[-1,2], tickvals=Y_TICKS, ticktext=Y_LABELS, title=ax_title("Atmospheric [O/H]")),
    xaxis2=base_axis(domain=dom2, anchor="y2", type="log", range=[-1,1], tickvals=X2_TICKS, ticktext=X2_LABELS, ticklen=3, tickcolor=CLEAR, title=ax_title("Atmospheric (S/O)/Stellar (S/O)")),
    yaxis2=base_axis(domain=domy, anchor="x2", range=[-1,2], tickvals=Y_TICKS, ticktext=Y_LABELS, title=ax_title("Atmospheric [O/H]")),
    xaxis3=base_axis(domain=dom1, anchor="y3", overlaying="x", range=[0,1.2], tickvals=X1_TICKS, ticks="inside", showticklabels=False),
    yaxis3=base_axis(domain=domy, anchor="x3", overlaying="y", range=[-1,2], tickvals=Y_TICKS, ticks="inside", showticklabels=False),
    xaxis4=base_axis(domain=dom2, anchor="y4", overlaying="x2", type="log", range=[-1,1], tickvals=X2_TICKS, ticks="inside", showticklabels=False),
    yaxis4=base_axis(domain=domy, anchor="x4", overlaying="y2", range=[-1,2], tickvals=Y_TICKS, ticks="inside", showticklabels=False),
    xaxis5=base_axis(domain=dom1, anchor="y3", overlaying="x", range=[0,1.2], tickvals=X1_TICKS, showticklabels=False),
    xaxis6=base_axis(domain=dom2, anchor="y4", overlaying="x2", type="log", range=[-1,1], tickvals=X2_TICKS, showticklabels=False),
)
fig.write_html("out.html", post_script="document.body.style.margin='0';", config={"displayModeBar": False})
